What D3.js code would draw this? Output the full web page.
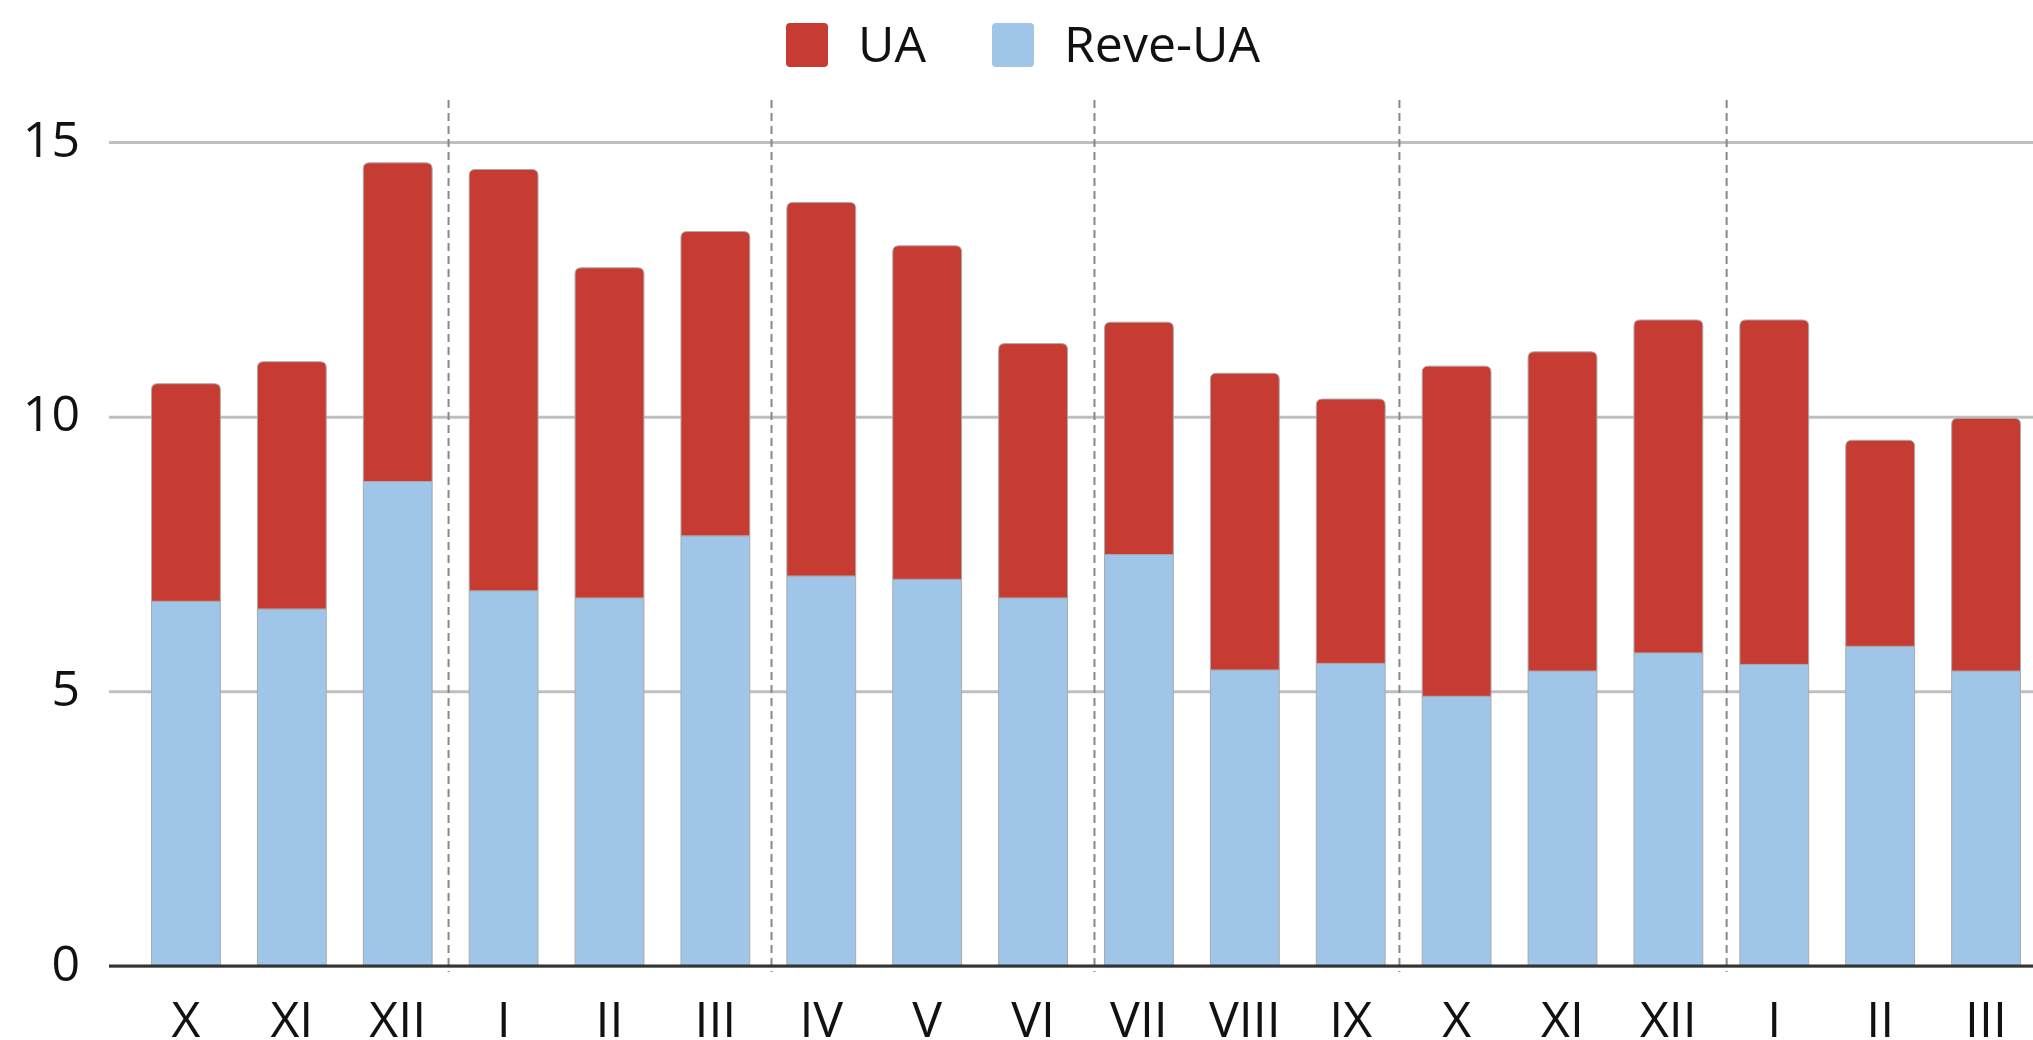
<!DOCTYPE html>
<html>
<head>
<meta charset="utf-8" />
<title>UA / Reve-UA</title>
<script src="https://cdn.jsdelivr.net/npm/d3@7"></script>
<style>
  body { margin: 0; background: #fff; }
  text { font-family: "Open Sans", sans-serif; fill: #111; }
</style>
</head>
<body>
<svg width="2033" height="1040"></svg>
<script>
// months along the x axis
const months = ["X","XI","XII","I","II","III","IV","V","VI","VII","VIII","IX","X","XI","XII","I","II","III"];
// bottom series (light blue)
const reveUA = [6.64, 6.5, 8.82, 6.83, 6.7, 7.83, 7.1, 7.04, 6.7, 7.49, 5.39, 5.51, 4.91, 5.37, 5.7, 5.49, 5.82, 5.37];
// top series (red)
const ua = [3.96, 4.5, 5.8, 7.67, 6.01, 5.54, 6.8, 6.07, 4.63, 4.23, 5.4, 4.81, 6.01, 5.81, 6.06, 6.27, 3.75, 4.6];
// y tick values
const yTicks = [0, 5, 10, 15];
// dashed separators, in month-index units
const separators = [2.48, 5.53, 8.58, 11.46, 14.55];

const svg = d3.select("svg");
const width = +svg.attr("width");
const height = +svg.attr("height");

const plotLeft = 109, plotBottom = 966, plotTop = 142;

const data = months.map((m, i) => ({ i: i, reve: reveUA[i], ua: ua[i] }));
const stack = d3.stack().keys(["reve", "ua"]);
const series = stack(data);

const x = d3.scaleBand()
    .domain(d3.range(months.length))
    .range([133, 2039])
    .paddingInner(0.35)
    .paddingOuter(0.175);

const y = d3.scaleLinear().domain([0, 15]).range([plotBottom, plotTop]);

const colors = { reve: "#9fc5e8", ua: "#c63b32" };

// gridlines + y labels
const yAxisG = svg.append("g")
    .attr("transform", `translate(${plotLeft},0)`)
    .call(d3.axisLeft(y).tickValues(yTicks).tickSize(-(width - plotLeft)).tickPadding(29));
yAxisG.select(".domain").remove();
yAxisG.selectAll(".tick line")
    .attr("stroke", "#bfbfbf")
    .attr("stroke-width", 3);
yAxisG.selectAll(".tick text")
    .attr("font-size", 50)
    .attr("dy", "0.28em")
    .style("fill", "#111");

// index -> bar centre, for the dashed separators
const sepX = d3.scaleLinear()
    .domain([0, months.length - 1])
    .range([x(0) + x.bandwidth() / 2, x(months.length - 1) + x.bandwidth() / 2]);

svg.append("g").selectAll("line")
    .data(separators)
    .enter().append("line")
    .attr("x1", d => sepX(d))
    .attr("x2", d => sepX(d))
    .attr("y1", 100)
    .attr("y2", 972)
    .attr("stroke", "#888")
    .attr("stroke-width", 2)
    .attr("stroke-dasharray", "8,5");

// bar path with optional rounded top
function barPath(x0, w, yTop, yBot, r) {
  if (!r) return `M${x0},${yBot}V${yTop}H${x0 + w}V${yBot}Z`;
  return `M${x0},${yBot}V${yTop + r}Q${x0},${yTop} ${x0 + r},${yTop}` +
         `H${x0 + w - r}Q${x0 + w},${yTop} ${x0 + w},${yTop + r}V${yBot}Z`;
}

svg.append("g").selectAll("g")
    .data(series)
    .enter().append("g")
    .attr("fill", d => colors[d.key])
    .each(function(s) {
      d3.select(this).selectAll("path")
        .data(s)
        .enter().append("path")
        .attr("d", d => barPath(x(d.data.i), x.bandwidth(), y(d[1]), y(d[0]), s.key === "ua" ? 6 : 0))
        .attr("stroke", "#aaa")
        .attr("stroke-width", 1);
    });

// x axis line
svg.append("line")
    .attr("x1", plotLeft).attr("x2", width)
    .attr("y1", plotBottom).attr("y2", plotBottom)
    .attr("stroke", "#333")
    .attr("stroke-width", 3);

const xAxisG = svg.append("g")
    .attr("transform", `translate(0,${plotBottom})`)
    .call(d3.axisBottom(x).tickSize(0).tickFormat(i => months[i]));
xAxisG.select(".domain").remove();
xAxisG.selectAll(".tick text")
    .attr("y", 71)
    .attr("dy", null)
    .attr("font-size", 50)
    .style("fill", "#111");

// legend
const legend = [
  { name: "UA", key: "ua", x: 786 },
  { name: "Reve-UA", key: "reve", x: 992 }
];
const lg = svg.append("g").selectAll("g").data(legend).enter().append("g");
lg.append("rect")
    .attr("x", d => d.x).attr("y", 23)
    .attr("width", 42).attr("height", 44)
    .attr("rx", 4)
    .attr("fill", d => colors[d.key]);
lg.append("text")
    .attr("x", d => d.x + 72)
    .attr("y", 62)
    .attr("font-size", 50)
    .text(d => d.name);
</script>
</body>
</html>
